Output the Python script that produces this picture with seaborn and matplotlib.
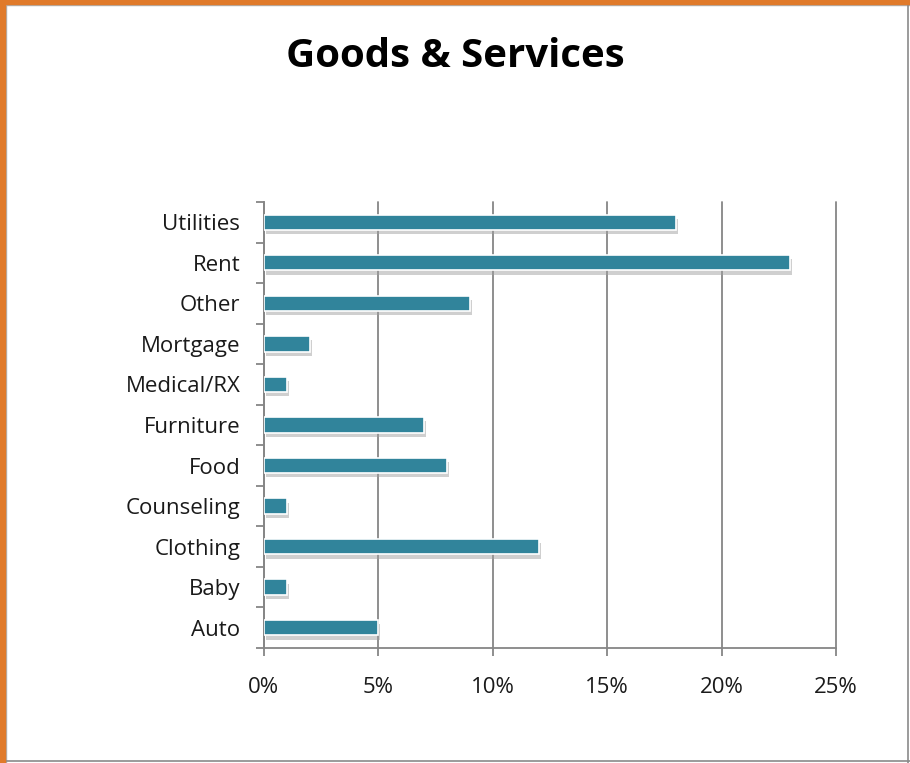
import matplotlib
matplotlib.use('Agg')
import matplotlib.pyplot as plt
import matplotlib.patheffects as pe
from matplotlib.patches import Rectangle
from matplotlib.lines import Line2D
from matplotlib.ticker import FuncFormatter, MultipleLocator
import pandas as pd
import seaborn as sns

categories = ['Utilities', 'Rent', 'Other', 'Mortgage', 'Medical/RX', 'Furniture',
              'Food', 'Counseling', 'Clothing', 'Baby', 'Auto']
shares = [18, 23, 9, 2, 1, 7, 8, 1, 12, 1, 5]  # percent
x_ticks = [0, 5, 10, 15, 20, 25]

sns.set_style('white')
plt.rcParams['font.family'] = ['Open Sans', 'DejaVu Sans']

df = pd.DataFrame({'category': categories, 'share': shares})

fig = plt.figure(figsize=(9.1, 7.63), dpi=100)
ax = fig.add_axes([0.290, 0.1507, 0.6287, 0.5846])

sns.barplot(data=df, x='share', y='category', order=categories, color='#31849B',
            saturation=1, width=0.38, edgecolor='white', linewidth=1.2, ax=ax, zorder=3)
for p in ax.patches:
    p.set_path_effects([pe.SimplePatchShadow(offset=(1.5, -3), shadow_rgbFace='#a0a0a0', alpha=0.5),
                        pe.Normal()])

ax.set_xlim(0, 25)
ax.set_ylim(len(categories) - 0.5, -0.5)
ax.set_xticks(x_ticks)
ax.xaxis.set_major_formatter(FuncFormatter(lambda v, _: f'{v:.0f}%'))
ax.set_xlabel('')
ax.set_ylabel('')

# category boundary ticks on y axis
ax.yaxis.set_minor_locator(MultipleLocator(1, offset=0.5))
ax.set_yticks(range(len(categories)))
ax.set_yticklabels(categories)
ax.tick_params(axis='y', which='major', length=0, pad=17, labelsize=16, labelcolor='#1a1a1a')
ax.tick_params(axis='y', which='minor', length=6, width=1.3, color='#868686', left=True)
ax.tick_params(axis='x', which='major', length=6, width=1.3, color='#868686', bottom=True,
               pad=15, labelsize=16, labelcolor='#1a1a1a')

ax.grid(True, axis='x', color='#868686', linewidth=1.3, zorder=0)
ax.grid(False, axis='y')
for gl in ax.get_xgridlines():
    gl.set_clip_on(False)
for side in ['top', 'right']:
    ax.spines[side].set_visible(False)
for side in ['left', 'bottom']:
    ax.spines[side].set_color('#868686')
    ax.spines[side].set_linewidth(1.3)

fig.text(0.5, 0.926, 'Goods & Services', ha='center', va='center',
         fontsize=29, fontweight='bold', color='black')

# chart frame
fig.add_artist(Rectangle((0, 0), 5 / 910, 1, transform=fig.transFigure, color='#E07A2A', zorder=10))
fig.add_artist(Rectangle((0, 1 - 4 / 763), 1, 4 / 763, transform=fig.transFigure, color='#E07A2A', zorder=10))
fig.add_artist(Line2D([5.5 / 910, 5.5 / 910], [0, 1 - 4 / 763], transform=fig.transFigure, color='#b0b0b0', lw=1))
fig.add_artist(Line2D([0, 1], [1 - 4.5 / 763] * 2, transform=fig.transFigure, color='#b0b0b0', lw=1))
fig.add_artist(Line2D([907.5 / 910] * 2, [0, 1], transform=fig.transFigure, color='#8a8a8a', lw=1.2))
fig.add_artist(Line2D([0, 1], [2.5 / 763] * 2, transform=fig.transFigure, color='#8a8a8a', lw=1.2))

fig.savefig('out.png', dpi=100, facecolor='white')
